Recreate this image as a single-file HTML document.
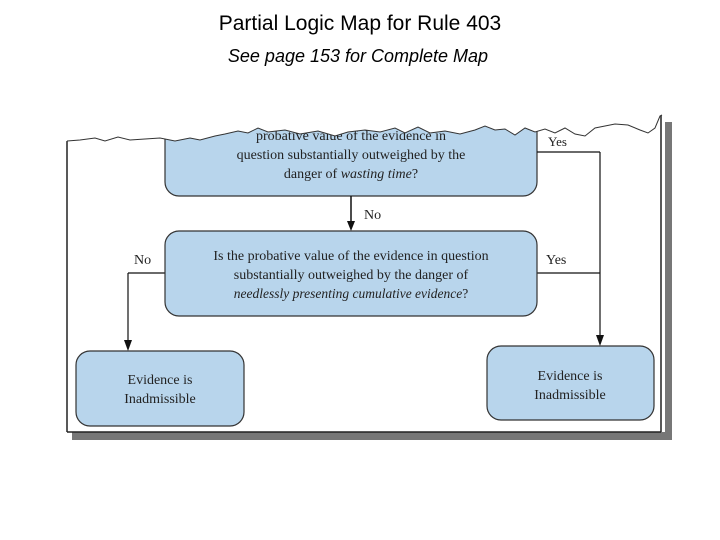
<!DOCTYPE html>
<html><head><style>body{margin:0;background:#fff}svg{display:block}</style></head><body>
<svg width="720" height="540" viewBox="0 0 720 540" xmlns="http://www.w3.org/2000/svg">
<text x="360" y="30" font-family="Liberation Sans, sans-serif" font-size="21" text-anchor="middle" fill="#000">Partial Logic Map for Rule 403</text>
<text x="358" y="62" font-family="Liberation Sans, sans-serif" font-size="18" font-style="italic" text-anchor="middle" fill="#000">See page 153 for Complete Map</text>
<!-- shadow -->
<rect x="665" y="122" width="7" height="318" fill="#777"/>
<rect x="72" y="432" width="600" height="8" fill="#777"/>
<!-- frame -->
<rect x="67" y="160" width="594" height="272" fill="#fff" stroke="none"/>
<rect x="67" y="100" width="594" height="60" fill="#fff"/>
<line x1="67" y1="141" x2="67" y2="432" stroke="#222" stroke-width="1.5"/>
<line x1="661" y1="115" x2="661" y2="432" stroke="#222" stroke-width="1.5"/>
<line x1="67" y1="432" x2="661" y2="432" stroke="#222" stroke-width="1.5"/>
<g font-family="Liberation Serif, serif" fill="#222">
<!-- top box -->
<rect x="165" y="110" width="372" height="86" rx="14" fill="#b8d5ec" stroke="#333" stroke-width="1.2"/>
<text x="351" y="140" font-size="14" text-anchor="middle">probative value of the evidence in</text>
<text x="351" y="159" font-size="14" text-anchor="middle">question substantially outweighed by the</text>
<text x="351" y="178" font-size="14" text-anchor="middle">danger of <tspan font-style="italic">wasting time</tspan>?</text>
<text x="548" y="146" font-size="13">Yes</text>
<!-- connectors -->
<line x1="351" y1="196" x2="351" y2="222" stroke="#111" stroke-width="1.5"/>
<polygon points="347,221 355,221 351,231" fill="#111"/>
<text x="364" y="219" font-size="14">No</text>
<line x1="537" y1="152" x2="600" y2="152" stroke="#111" stroke-width="1.2"/>
<line x1="600" y1="152" x2="600" y2="336" stroke="#111" stroke-width="1.2"/>
<polygon points="596,335 604,335 600,346" fill="#111"/>
<line x1="537" y1="273" x2="600" y2="273" stroke="#111" stroke-width="1.2"/>
<line x1="128" y1="273" x2="165" y2="273" stroke="#111" stroke-width="1.2"/>
<line x1="128" y1="273" x2="128" y2="341" stroke="#111" stroke-width="1.2"/>
<polygon points="124,340 132,340 128,351" fill="#111"/>
<text x="134" y="264" font-size="14">No</text>
<text x="546" y="264" font-size="14">Yes</text>
<!-- middle box -->
<rect x="165" y="231" width="372" height="85" rx="14" fill="#b8d5ec" stroke="#333" stroke-width="1.2"/>
<text x="351" y="260" font-size="14" text-anchor="middle">Is the probative value of the evidence in question</text>
<text x="351" y="279" font-size="14" text-anchor="middle">substantially outweighed by the danger of</text>
<text x="351" y="298" font-size="13.5" font-style="italic" text-anchor="middle">needlessly presenting cumulative evidence<tspan font-style="normal">?</tspan></text>
<!-- bottom boxes -->
<rect x="76" y="351" width="168" height="75" rx="14" fill="#b8d5ec" stroke="#333" stroke-width="1.2"/>
<text x="160" y="384" font-size="14" text-anchor="middle">Evidence is</text>
<text x="160" y="403" font-size="14" text-anchor="middle">Inadmissible</text>
<rect x="487" y="346" width="167" height="74" rx="14" fill="#b8d5ec" stroke="#333" stroke-width="1.2"/>
<text x="570" y="380" font-size="14" text-anchor="middle">Evidence is</text>
<text x="570" y="399" font-size="14" text-anchor="middle">Inadmissible</text>
</g>
<!-- torn edge -->
<path d="M60,100 L60,142 L67,141 L80,140 L95,138 L105,141 L118,137 L130,140 L145,139 L160,138 L175,141 L190,138 L200,140 L215,136 L225,134 L238,131 L248,133 L258,128 L268,132 L285,130 L300,134 L318,131 L335,136 L348,132 L365,130 L380,132 L395,128 L405,133 L418,127 L430,133 L445,131 L460,134 L475,130 L485,126 L495,130 L505,129 L515,135 L525,128 L535,132 L545,129 L555,133 L565,128 L575,134 L585,136 L595,128 L605,126 L615,124 L628,125 L640,130 L648,133 L655,128 L660,116 L662,115 L662,100 Z" fill="#fff"/>
<path d="M67,141 L80,140 L95,138 L105,141 L118,137 L130,140 L145,139 L160,138 L175,141 L190,138 L200,140 L215,136 L225,134 L238,131 L248,133 L258,128 L268,132 L285,130 L300,134 L318,131 L335,136 L348,132 L365,130 L380,132 L395,128 L405,133 L418,127 L430,133 L445,131 L460,134 L475,130 L485,126 L495,130 L505,129 L515,135 L525,128 L535,132 L545,129 L555,133 L565,128 L575,134 L585,136 L595,128 L605,126 L615,124 L628,125 L640,130 L648,133 L655,128 L660,116 L662,115" fill="none" stroke="#333" stroke-width="1"/>
</svg>
</body></html>
